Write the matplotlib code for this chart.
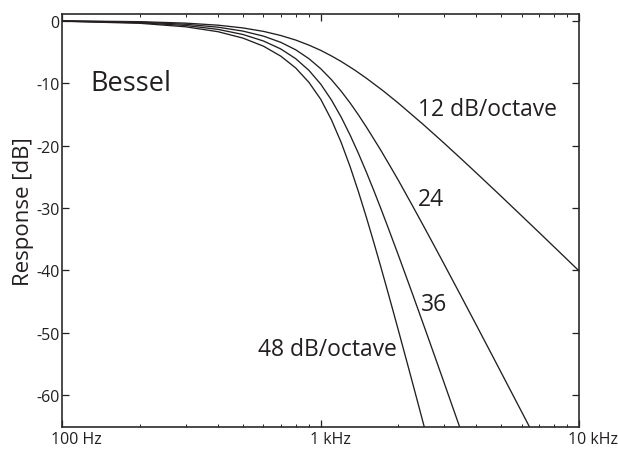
import numpy as np
import matplotlib
matplotlib.use('Agg')
import matplotlib.pyplot as plt
import matplotlib.transforms as mtransforms
from matplotlib.ticker import FixedLocator, NullFormatter

plt.rcParams['font.family'] = ['Open Sans', 'DejaVu Sans']

# values (frequency in Hz, response in dB)
f_12 = [100, 200, 300, 400, 500, 600, 700, 800, 900, 1000, 1100, 1200, 1350,
        1500, 1750, 2000, 2500, 3000, 3500, 4000, 4500, 5000, 6000, 7000, 8500, 10000]
db_12 = [-0.04, -0.18, -0.41, -0.74, -1.18, -1.73, -2.39, -3.12, -3.93, -4.77,
         -5.66, -6.55, -7.89, -9.21, -11.29, -13.23, -16.67, -19.6, -22.14,
         -24.37, -26.36, -28.14, -31.26, -33.9, -37.25, -40.06]

f_24 = [100, 200, 300, 400, 500, 600, 700, 800, 900, 1000, 1100, 1200, 1300,
        1400, 1500, 1700, 1850, 2000, 2250, 2500, 2750, 3000, 3500, 4000, 4500,
        5000, 5500, 6000, 7000]
db_24 = [-0.07, -0.26, -0.59, -1.06, -1.69, -2.49, -3.48, -4.68, -6.10, -7.71,
         -9.46, -11.31, -13.2, -15.11, -17.0, -20.61, -23.19, -25.6, -29.41,
         -32.87, -36.03, -38.95, -44.16, -48.71, -52.74, -56.36, -59.64, -62.64, -67.96]

f_36 = [100, 200, 300, 400, 500, 600, 700, 800, 900, 1000, 1100, 1200, 1300,
        1400, 1500, 1600, 1700, 1800, 2000, 2250, 2500, 2750, 3000, 3300, 3600]
db_36 = [-0.09, -0.35, -0.79, -1.41, -2.23, -3.27, -4.54, -6.10, -7.97, -10.18,
         -12.71, -15.46, -18.35, -21.28, -24.20, -27.06, -29.84, -32.53, -37.6,
         -43.40, -48.67, -53.48, -57.9, -62.77, -67.2]

f_48 = [100, 200, 300, 400, 500, 600, 700, 800, 900, 1000, 1100, 1200, 1300,
        1400, 1500, 1600, 1700, 1800, 1900, 2000, 2200, 2400, 2600]
db_48 = [-0.11, -0.44, -1.00, -1.78, -2.81, -4.10, -5.69, -7.59, -9.89, -12.6,
         -15.88, -19.52, -23.41, -27.42, -31.41, -35.32, -39.11, -42.77, -46.27,
         -49.64, -55.97, -61.82, -67.23]

y_ticks = [0, -10, -20, -30, -40, -50, -60]
y_labels = ['0', '-10', '-20', '-30', '-40', '-50', '-60']
x_ticks = [100, 1000, 10000]
x_labels = ['100 Hz', '1 kHz', '10 kHz']

ink = '#231f20'

fig = plt.figure(figsize=(6.18, 4.52), dpi=100)
ax = fig.add_axes([0.1011, 0.0524, 0.8358, 0.9151])

for f, db in [(f_12, db_12), (f_24, db_24), (f_36, db_36), (f_48, db_48)]:
    ax.plot(f, db, color=ink, lw=0.95)

ax.set_xscale('log')
ax.set_xlim(100, 10000)
ax.set_ylim(-65.1, 1.1)

ax.set_yticks(y_ticks)
ax.set_yticklabels(y_labels)
ax.xaxis.set_major_locator(FixedLocator(x_ticks))
ax.set_xticklabels(x_labels)
minors = [m * d for d in (100, 1000) for m in range(2, 10)]
ax.xaxis.set_minor_locator(FixedLocator(minors))
ax.xaxis.set_minor_formatter(NullFormatter())

ax.tick_params(which='major', direction='in', length=5, width=0.9, color=ink,
               top=True, right=True, labelsize=11.5, labelcolor=ink)
ax.tick_params(axis='y', pad=2)
ax.tick_params(axis='x', pad=3)
ax.tick_params(which='minor', direction='in', length=2.5, width=0.7, color=ink,
               top=True, bottom=True)
for s in ax.spines.values():
    s.set_linewidth(1.2)
    s.set_color('#2b2b2b')

# tick labels sit a little right of their ticks in the reference
offset = mtransforms.ScaledTranslation(-11 / 100, 0, fig.dpi_scale_trans)
for lab in ax.get_xticklabels():
    lab.set_horizontalalignment('left')
    lab.set_transform(lab.get_transform() + offset)

ax.set_ylabel('Response [dB]', fontsize=16, color=ink)
ax.yaxis.set_label_coords(-0.055, 0.525)

ax.text(128, -11.07, 'Bessel', fontsize=19.5, color=ink, ha='left', va='baseline')
ax.text(2385, -15.12, '12 dB/octave', fontsize=16.5, color=ink, ha='left', va='baseline')
ax.text(2385, -29.52, '24', fontsize=16.5, color=ink, ha='left', va='baseline')
ax.text(2436, -46.27, '36', fontsize=16.5, color=ink, ha='left', va='baseline')
ax.text(573, -53.52, '48 dB/octave', fontsize=16.5, color=ink, ha='left', va='baseline')

fig.savefig('out.png', dpi=100)
